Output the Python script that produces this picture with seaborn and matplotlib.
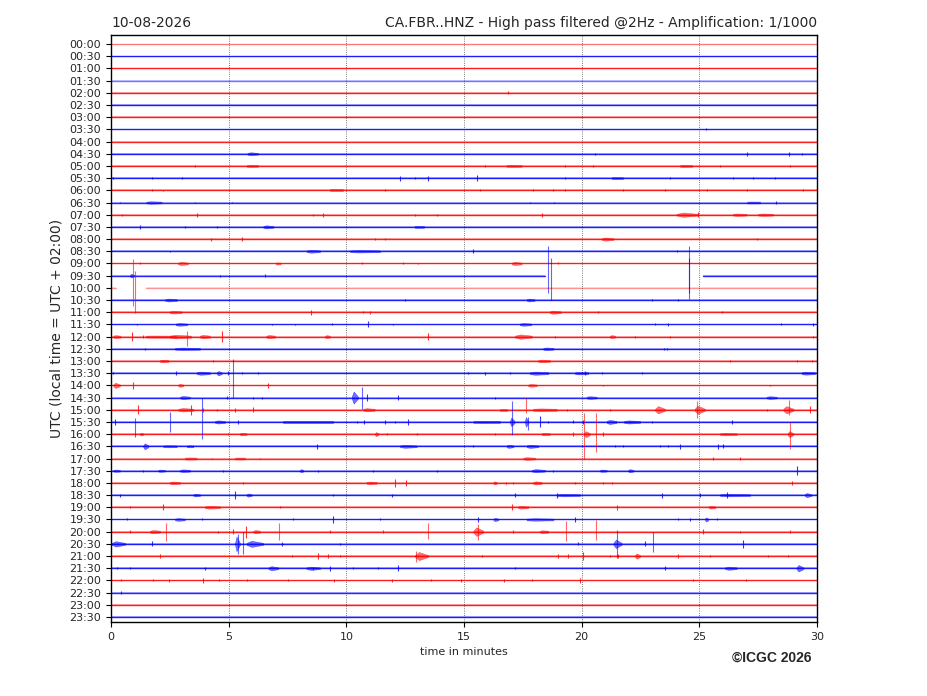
import matplotlib
matplotlib.use("Agg")
import matplotlib.pyplot as plt
import seaborn as sns
import pandas as pd

# ---------------- data ----------------
row_labels = ["00:00", "00:30", "01:00", "01:30", "02:00", "02:30", "03:00", "03:30",
              "04:00", "04:30", "05:00", "05:30", "06:00", "06:30", "07:00", "07:30",
              "08:00", "08:30", "09:00", "09:30", "10:00", "10:30", "11:00", "11:30",
              "12:00", "12:30", "13:00", "13:30", "14:00", "14:30", "15:00", "15:30",
              "16:00", "16:30", "17:00", "17:30", "18:00", "18:30", "19:00", "19:30",
              "20:00", "20:30", "21:00", "21:30", "22:00", "22:30", "23:00", "23:30"]
x_ticks = [0, 5, 10, 15, 20, 25, 30]

# recorded data spans (start minute, end minute) for rows with gaps
gap_spans = {19: [(0.0, 18.44), (25.17, 30.0)],
             20: [(0.0, 0.2), (1.5, 30.0)]}

# background noise half-amplitude per row (in trace-spacing units)
noise = [0.04, 0.04, 0.06, 0.07, 0.06, 0.05, 0.06, 0.06, 0.06, 0.07, 0.07, 0.07,
         0.07, 0.07, 0.07, 0.07, 0.07, 0.07, 0.07, 0.05, 0.07, 0.07, 0.07, 0.07,
         0.08, 0.07, 0.07, 0.08, 0.07, 0.07, 0.08, 0.08, 0.07, 0.07, 0.07, 0.07,
         0.07, 0.07, 0.07, 0.07, 0.08, 0.08, 0.07, 0.07, 0.07, 0.06, 0.06, 0.05]

# bursts: (row, start minute, end minute, half-amplitude)
bursts = [
    (9, 5.8, 6.25, 0.12), (10, 5.77, 6.25, 0.1), (10, 16.8, 17.45, 0.09), (10, 24.18, 24.7, 0.09),
    (11, 21.28, 21.76, 0.08), (12, 9.3, 9.86, 0.07), (13, 1.5, 2.15, 0.1), (13, 27.03, 27.58, 0.08),
    (14, 24.04, 24.95, 0.18), (14, 26.43, 27.0, 0.1), (14, 27.5, 28.13, 0.1), (15, 6.47, 6.9, 0.13),
    (15, 12.9, 13.3, 0.08), (16, 20.85, 21.35, 0.13), (17, 8.32, 8.88, 0.12), (17, 10.16, 11.43, 0.1),
    (18, 2.85, 3.27, 0.13), (18, 7.0, 7.2, 0.08), (18, 17.03, 17.45, 0.13), (19, 0.8, 1.0, 0.15),
    (21, 2.3, 2.8, 0.12), (21, 17.67, 18.0, 0.12), (22, 2.5, 3.0, 0.11), (22, 18.64, 19.12, 0.13),
    (23, 2.75, 3.24, 0.11), (23, 17.37, 17.86, 0.11), (24, 0.1, 0.4, 0.12), (24, 1.48, 2.75, 0.09),
    (24, 2.5, 3.4, 0.15), (24, 3.78, 4.2, 0.14), (24, 6.6, 6.97, 0.13), (24, 9.1, 9.3, 0.12),
    (24, 17.17, 17.88, 0.18), (24, 21.2, 21.42, 0.12), (25, 2.72, 3.78, 0.1), (25, 18.37, 18.8, 0.11),
    (26, 2.08, 2.44, 0.11), (26, 18.15, 18.65, 0.11), (27, 3.64, 4.2, 0.13), (27, 4.5, 4.7, 0.18),
    (27, 17.8, 18.58, 0.13), (27, 19.72, 20.28, 0.1), (27, 29.35, 29.91, 0.12), (28, 0.1, 0.38, 0.22),
    (28, 2.86, 3.07, 0.12), (28, 17.73, 18.09, 0.11), (29, 2.93, 3.36, 0.13), (29, 10.23, 10.5, 0.5),
    (29, 20.21, 20.64, 0.11), (29, 27.86, 28.29, 0.11), (30, 2.86, 3.5, 0.14), (30, 10.72, 11.2, 0.13),
    (30, 16.53, 16.81, 0.08), (30, 17.94, 18.94, 0.11), (30, 23.12, 23.54, 0.3), (30, 24.8, 25.24, 0.33),
    (30, 28.57, 29.0, 0.3), (31, 4.42, 4.84, 0.13), (31, 7.3, 9.45, 0.08), (31, 15.4, 16.53, 0.09),
    (31, 16.95, 17.15, 0.35), (31, 17.59, 17.73, 0.4), (31, 21.06, 21.48, 0.17), (31, 21.8, 22.48, 0.13),
    (32, 1.23, 1.37, 0.11), (32, 5.48, 5.76, 0.1), (32, 11.22, 11.36, 0.17), (32, 18.3, 18.65, 0.1),
    (32, 20.1, 20.35, 0.25), (32, 25.88, 26.59, 0.1), (32, 28.75, 29.0, 0.25), (33, 1.37, 1.59, 0.25),
    (33, 2.22, 2.79, 0.08), (33, 3.22, 3.5, 0.08), (33, 12.28, 12.99, 0.12), (33, 16.81, 17.1, 0.13),
    (33, 17.66, 18.16, 0.13), (34, 3.14, 3.64, 0.09), (34, 5.27, 5.69, 0.08), (34, 17.52, 18.02, 0.11),
    (35, 0.1, 0.38, 0.09), (35, 2.01, 2.29, 0.09), (35, 2.93, 3.36, 0.11), (35, 8.03, 8.17, 0.13),
    (35, 17.88, 18.44, 0.13), (35, 20.78, 21.06, 0.09), (35, 21.98, 22.2, 0.13), (36, 2.5, 2.93, 0.11),
    (36, 10.86, 11.29, 0.11), (36, 16.25, 16.39, 0.13), (36, 17.94, 18.3, 0.13), (37, 3.5, 3.78, 0.11),
    (37, 5.76, 5.98, 0.13), (37, 18.94, 19.93, 0.1), (37, 25.88, 27.15, 0.1), (37, 29.48, 29.77, 0.17),
    (38, 3.99, 4.63, 0.11), (38, 17.3, 17.73, 0.11), (38, 25.4, 25.68, 0.11), (39, 2.72, 3.14, 0.11),
    (39, 16.25, 16.46, 0.13), (39, 17.66, 18.8, 0.1), (39, 25.24, 25.38, 0.17), (40, 1.66, 2.08, 0.13),
    (40, 6.05, 6.33, 0.13), (40, 15.4, 15.82, 0.35), (40, 18.23, 18.58, 0.11), (41, 0.03, 0.6, 0.22),
    (41, 5.27, 5.48, 0.6), (41, 5.76, 6.47, 0.25), (41, 21.35, 21.7, 0.35), (42, 12.92, 13.48, 0.33),
    (42, 22.27, 22.48, 0.22), (43, 6.69, 7.11, 0.17), (43, 8.31, 8.88, 0.13), (43, 26.09, 26.59, 0.13),
    (43, 29.13, 29.42, 0.27),
]

# symmetric spikes: (row, minute, half-amplitude)
spikes = [
    (4, 16.87, 0.12), (7, 25.3, 0.08),
    (9, 20.57, 0.1), (9, 27.04, 0.15), (9, 28.83, 0.15), (9, 29.35, 0.08),
    (10, 3.57, 0.07), (10, 15.89, 0.08), (10, 19.29, 0.08), (10, 20.5, 0.07), (10, 25.88, 0.07), (10, 28.86, 0.07),
    (11, 0.1, 0.08), (11, 1.73, 0.08), (11, 3.0, 0.1), (11, 12.28, 0.2), (11, 12.92, 0.08), (11, 13.47, 0.2),
    (11, 15.55, 0.22), (11, 19.3, 0.1), (11, 23.76, 0.08), (11, 26.43, 0.08), (11, 27.28, 0.08), (11, 28.22, 0.08),
    (12, 1.73, 0.08), (12, 2.2, 0.06), (12, 11.65, 0.07), (12, 15.68, 0.07), (12, 17.93, 0.08), (12, 18.78, 0.08),
    (12, 19.29, 0.08), (12, 21.76, 0.07), (12, 23.54, 0.07), (12, 25.33, 0.07), (12, 27.03, 0.07), (12, 29.41, 0.08),
    (13, 0.38, 0.08), (13, 3.57, 0.07), (13, 5.13, 0.07), (13, 17.81, 0.07), (13, 18.83, 0.08), (13, 28.26, 0.12),
    (14, 0.45, 0.08), (14, 3.64, 0.18), (14, 8.6, 0.08), (14, 9.0, 0.18), (14, 12.92, 0.08), (14, 13.84, 0.08),
    (14, 18.3, 0.18), (14, 24.95, 0.2),
    (15, 1.23, 0.18), (15, 3.14, 0.07), (15, 4.49, 0.07),
    (16, 4.25, 0.12), (16, 5.55, 0.18), (16, 11.22, 0.08), (16, 11.65, 0.08), (16, 27.45, 0.08),
    (17, 2.5, 0.06), (17, 15.4, 0.15), (17, 24.04, 0.1),
    (18, 1.23, 0.08), (18, 10.65, 0.08), (18, 12.4, 0.08), (18, 13.05, 0.07), (18, 19.0, 0.08),
    (19, 4.63, 0.08), (19, 6.54, 0.12),
    (21, 12.5, 0.08), (21, 22.97, 0.06), (21, 24.1, 0.1),
    (22, 8.5, 0.2), (22, 10.7, 0.08), (22, 11.0, 0.14), (22, 20.68, 0.08), (22, 25.95, 0.06),
    (23, 1.09, 0.07), (23, 6.84, 0.07), (23, 7.82, 0.07), (23, 9.38, 0.08), (23, 10.94, 0.25), (23, 12.0, 0.07),
    (23, 23.12, 0.08), (23, 23.66, 0.15), (23, 28.48, 0.08), (23, 29.84, 0.1),
    (24, 0.88, 0.35), (24, 1.37, 0.1), (24, 4.7, 0.45), (24, 13.45, 0.3), (24, 18.87, 0.08),
    (24, 22.27, 0.08), (24, 23.75, 0.08), (24, 29.84, 0.08),
    (25, 1.44, 0.07), (25, 23.5, 0.08), (25, 23.61, 0.07),
    (26, 4.35, 0.07), (26, 26.3, 0.07), (26, 29.13, 0.07), (26, 29.77, 0.1),
    (27, 0.1, 0.08), (27, 2.76, 0.15), (27, 4.99, 0.18), (27, 5.55, 0.1), (27, 6.26, 0.08), (27, 15.18, 0.07),
    (27, 15.89, 0.12), (27, 16.95, 0.07), (27, 20.14, 0.15), (27, 20.85, 0.07), (27, 22.55, 0.07),
    (28, 0.95, 0.3), (28, 6.69, 0.2), (28, 20.92, 0.07), (28, 28.0, 0.07),
    (29, 4.92, 0.15), (29, 6.05, 0.08), (29, 6.4, 0.08), (29, 10.86, 0.3), (29, 12.2, 0.2), (29, 16.32, 0.08),
    (30, 1.16, 0.35), (30, 3.38, 0.4), (30, 3.92, 0.15), (30, 4.49, 0.1), (30, 5.27, 0.15), (30, 6.05, 0.2),
    (30, 19.36, 0.08), (30, 21.2, 0.08), (30, 27.86, 0.08), (30, 29.7, 0.3), (30, 29.99, 0.3),
    (31, 0.17, 0.25), (31, 5.41, 0.15), (31, 10.44, 0.1), (31, 10.75, 0.15), (31, 11.64, 0.15), (31, 12.07, 0.1),
    (31, 12.63, 0.25), (31, 18.23, 0.45), (31, 18.58, 0.1), (31, 19.65, 0.12), (31, 20.07, 0.15),
    (31, 22.97, 0.1), (31, 26.4, 0.15),
    (32, 4.99, 0.08), (32, 11.71, 0.08), (32, 12.99, 0.08), (32, 16.32, 0.08), (32, 19.65, 0.15), (32, 20.9, 0.15),
    (33, 8.74, 0.2), (33, 15.4, 0.08), (33, 21.42, 0.08), (33, 21.77, 0.08), (33, 23.33, 0.08), (33, 23.68, 0.08),
    (33, 24.18, 0.2), (33, 25.8, 0.2), (33, 26.02, 0.15),
    (34, 4.28, 0.08), (34, 6.33, 0.08), (34, 25.59, 0.15), (34, 26.72, 0.1),
    (35, 1.37, 0.07), (35, 4.77, 0.07), (35, 8.81, 0.08), (35, 11.15, 0.07), (35, 13.84, 0.07), (35, 18.8, 0.08),
    (35, 29.13, 0.35),
    (36, 5.62, 0.08), (36, 12.07, 0.3), (36, 12.54, 0.25), (36, 16.77, 0.08), (36, 17.1, 0.08), (36, 19.7, 0.08),
    (36, 20.92, 0.08), (36, 21.28, 0.08), (36, 28.92, 0.15),
    (37, 0.38, 0.12), (37, 5.27, 0.3), (37, 9.45, 0.08), (37, 11.93, 0.12), (37, 17.17, 0.15), (37, 18.94, 0.2),
    (37, 23.4, 0.2), (37, 25.02, 0.15), (37, 26.16, 0.25),
    (38, 0.81, 0.08), (38, 2.22, 0.25), (38, 7.18, 0.08), (38, 17.02, 0.25), (38, 21.49, 0.2),
    (39, 0.67, 0.08), (39, 3.85, 0.08), (39, 7.75, 0.08), (39, 9.45, 0.3), (39, 11.43, 0.08), (39, 15.61, 0.2),
    (39, 19.72, 0.2), (39, 24.11, 0.08), (39, 24.6, 0.15), (39, 25.73, 0.08),
    (40, 0.81, 0.1), (40, 4.56, 0.08), (40, 5.2, 0.2), (40, 5.72, 0.5), (40, 9.3, 0.15), (40, 11.57, 0.15),
    (40, 17.1, 0.15), (40, 25.17, 0.2), (40, 26.72, 0.08), (40, 28.85, 0.15),
    (41, 1.73, 0.2), (41, 7.25, 0.15), (41, 9.73, 0.1), (41, 19.86, 0.12), (41, 22.69, 0.2), (41, 26.87, 0.35),
    (42, 2.08, 0.15), (42, 7.68, 0.08), (42, 8.81, 0.25), (42, 9.23, 0.2), (42, 9.73, 0.08), (42, 15.75, 0.08),
    (42, 19.0, 0.2), (42, 19.43, 0.2), (42, 20.07, 0.35), (42, 21.2, 0.08), (42, 21.55, 0.2), (42, 24.11, 0.15),
    (42, 25.45, 0.08), (42, 27.93, 0.08), (42, 28.78, 0.08),
    (43, 0.24, 0.1), (43, 0.8, 0.08), (43, 3.99, 0.12), (43, 8.6, 0.12), (43, 9.3, 0.2), (43, 10.27, 0.08),
    (43, 11.35, 0.08), (43, 12.19, 0.25), (43, 17.17, 0.08), (43, 23.55, 0.15),
    (44, 0.41, 0.08), (44, 1.78, 0.08), (44, 2.46, 0.15), (44, 3.93, 0.2), (44, 4.61, 0.08), (44, 5.78, 0.08),
    (44, 7.54, 0.08), (44, 9.49, 0.15), (44, 11.93, 0.12), (44, 13.59, 0.08), (44, 14.86, 0.15), (44, 16.72, 0.12),
    (44, 17.89, 0.08), (44, 19.94, 0.2), (44, 24.73, 0.08), (44, 26.97, 0.08),
    (45, 0.41, 0.12),
]

# large asymmetric spikes: (row, minute, extent above, extent below)
big_spikes = [
    (20, 0.95, 2.4, 1.5), (20, 1.02, 1.4, 2.1),
    (19, 18.59, 2.4, 1.45), (19, 18.7, 1.43, 2.0), (19, 24.54, 2.4, 1.45), (19, 24.58, 1.43, 1.9),
    (24, 3.24, 0.5, 0.75),
    (27, 5.2, 1.2, 2.0), (29, 10.65, 0.9, 0.9),
    (30, 17.62, 1.0, 0.3), (30, 24.9, 0.7, 0.7), (30, 28.82, 0.8, 0.4),
    (31, 1.02, 0.3, 1.25), (31, 2.5, 0.85, 0.85), (31, 3.85, 2.0, 1.4), (31, 17.05, 1.75, 1.1), (31, 17.7, 0.4, 0.7),
    (32, 20.1, 1.7, 2.0), (32, 20.6, 1.7, 1.5), (32, 28.85, 1.0, 1.2),
    (40, 2.34, 0.68, 0.75), (40, 7.14, 0.7, 0.7), (40, 13.48, 0.7, 0.6), (40, 15.6, 0.65, 0.65),
    (40, 19.33, 0.9, 0.8), (40, 20.6, 0.95, 0.7),
    (41, 5.4, 0.8, 0.8), (41, 5.62, 0.95, 0.8), (41, 21.49, 1.1, 1.2), (41, 23.02, 1.0, 0.7),
    (42, 12.96, 0.45, 0.45),
]

# ---------------- style ----------------
RED = "#ff0000"
BLUE = "#0000ff"
row_colour = [RED if i % 2 == 0 else BLUE for i in range(len(row_labels))]
pale_alpha = {0: 0.45, 3: 0.55, 20: 0.35}

sns.set_style("ticks")
plt.rcParams["font.family"] = ["DejaVu Sans"]

fig = plt.figure(figsize=(9.27, 6.96), dpi=100)
ax = fig.add_axes([111 / 927, 1 - 622 / 696, (817 - 111) / 927, (622 - 35) / 696])

# baselines via seaborn
recs = []
seg_id = 0
for i, lab in enumerate(row_labels):
    spans = gap_spans.get(i, [(0.0, 30.0)])
    for (s, e) in spans:
        recs.append({"minute": s, "row": i, "seg": seg_id})
        recs.append({"minute": e, "row": i, "seg": seg_id})
        seg_id += 1
df = pd.DataFrame(recs)

for i, lab in enumerate(row_labels):
    sub = df[df["row"] == i]
    a = pale_alpha.get(i, 0.85)
    sns.lineplot(data=sub, x="minute", y="row", units="seg", estimator=None, sort=False,
                 color=row_colour[i], lw=1.0, alpha=a, ax=ax, legend=False)
    for seg, g in sub.groupby("seg"):
        xs = g["minute"].values
        ax.fill_between(xs, i - noise[i], i + noise[i], color=row_colour[i],
                        alpha=a * 0.35, lw=0)

# bursts drawn as spindle-shaped envelopes (quick onset, slower decay)
for (r, s, e, amp) in bursts:
    pk = s + 0.3 * (e - s)
    xs = [s, pk, e]
    ax.fill_between(xs, [r - noise[r], r - amp, r - noise[r]],
                    [r + noise[r], r + amp, r + noise[r]],
                    color=row_colour[r], alpha=0.55, lw=0.4)

sp = pd.DataFrame(spikes, columns=["row", "minute", "amp"])
for r, g in sp.groupby("row"):
    ax.vlines(g["minute"], g["row"] - g["amp"], g["row"] + g["amp"],
              color=row_colour[int(r)], lw=0.8, alpha=0.8)

for (r, t, up, dn) in big_spikes:
    ax.vlines(t, r - up, r + dn, color=row_colour[r], lw=0.8, alpha=0.6)

ax.set_xlim(0, 30)
ax.set_ylim(47.41, -0.74)
ax.set_xticks(x_ticks)
ax.set_xticklabels([str(v) for v in x_ticks], fontsize=8)
ax.set_yticks(range(len(row_labels)))
ax.set_yticklabels(row_labels, fontsize=8)
for v in x_ticks[1:-1]:
    ax.axvline(v, color="black", ls=":", lw=0.6, alpha=0.7, zorder=0)
for sp_ in ax.spines.values():
    sp_.set_visible(True)
    sp_.set_color("black")
    sp_.set_linewidth(1.0)
ax.tick_params(axis="both", direction="out", length=3.5, width=0.8, color="black")
ax.set_xlabel("time in minutes", fontsize=8)
ax.set_ylabel("UTC (local time = UTC + 02:00)", fontsize=10)
ax.set_title("10-08-2026", loc="left", fontsize=10)
ax.set_title("CA.FBR..HNZ - High pass filtered @2Hz - Amplification: 1/1000", loc="right", fontsize=10)

fig.text(811 / 927, 1 - 658 / 696, "\u00a9ICGC 2026", ha="right", va="center",
         fontsize=10, fontweight="bold", family=["Liberation Sans", "DejaVu Sans"])

fig.savefig("out.png", dpi=100)
